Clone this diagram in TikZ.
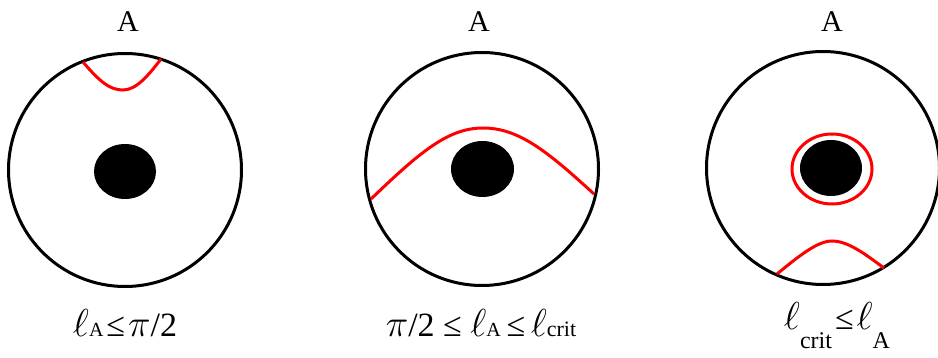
\RequirePackage{fix-cm}
\documentclass[tikz,border=0pt]{standalone}
\usepackage{fontspec}
\setmainfont{Liberation Serif}
\usepackage{tikz}
\usetikzlibrary{positioning}

\newcommand{\ellsym}{{\fontsize{39}{40}\selectfont$\ell$}}
\newcommand{\pisym}{{\fontsize{38}{40}\selectfont$\pi$}}
\newcommand{\sub}[2][20]{{\fontsize{#1}{22}\selectfont #2}}
\newcommand{\lowsub}[1]{\raisebox{-19pt}{\fontsize{24}{26}\selectfont #1}}

\begin{document}
\begin{tikzpicture}[
  x=1pt, y=-1pt,
  bulk/.style={draw, circle, line width=3pt, minimum size=233pt, inner sep=0pt},
  hole/.style={fill=black},
  geo/.style={draw=red, line width=3pt},
  lbl/.style={font=\fontsize{30}{34}\selectfont, anchor=base, inner sep=0pt},
  cond/.style={font=\fontsize{34}{38}\selectfont, anchor=base, inner sep=0pt}
]
\useasboundingbox (0,0) rectangle (938,358);

% small region A
\node[bulk] (bulk1) at (125,170) {};
\fill[hole] (125,171.5) ellipse [x radius=31, y radius=27.5];
\draw[geo] (83,62) .. controls (100,82) and (110,90) .. (123,90)
  .. controls (136,90) and (148,76) .. (161,59);
\node[lbl] (top1) at (128,32) {A};
\node[cond] (cond1) at (125,337) {\ellsym\sub{A}\kern3pt≤\kern3pt\pisym/2};

% intermediate region A
\node[bulk] (bulk2) at (482,169) {};
\fill[hole] (482.5,169) ellipse [x radius=31.5, y radius=28];
\draw[geo] (371,199) .. controls (420,152) and (448,128) .. (483,128)
  .. controls (518,128) and (546,150) .. (594,194);
\node[lbl] (top2) at (479,32) {A};
\node[cond] (cond2) at (481,337) {\pisym/2 ≤ \ellsym\sub{A}\,≤\,\ellsym\sub[22]{crit}};

% large region A, disconnected
\node[bulk] (bulk3) at (823,168) {};
\fill[hole] (831,168) ellipse [x radius=31, y radius=28];
\draw[geo] (832,169) ellipse [x radius=40, y radius=35];
\draw[geo] (777,274) .. controls (800,255) and (818,241) .. (832,241)
  .. controls (848,241) and (865,254) .. (884,268);
\node[lbl] (top3) at (832,32) {A};
\node[cond] (cond3) at (837,330) {\ellsym\lowsub{crit}\kern3pt≤\kern3pt\ellsym\lowsub{A}};
\end{tikzpicture}
\end{document}
